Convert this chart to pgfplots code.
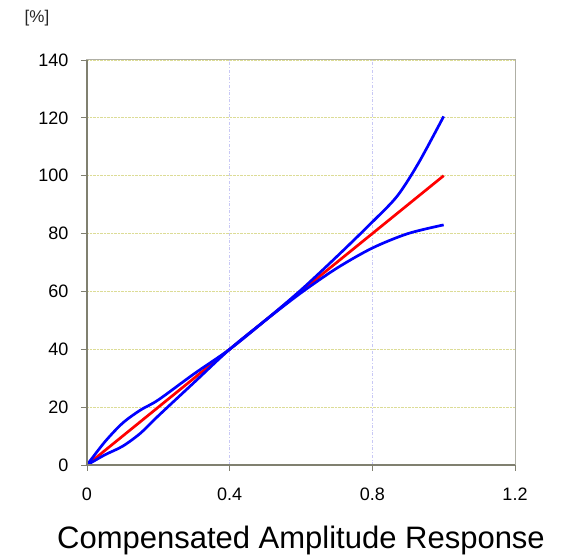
\documentclass[border=0pt]{standalone}
\usepackage{pgfplots}
\pgfplotsset{compat=1.18}
\usepackage{fontspec}
\setmainfont{Liberation Sans}
\definecolor{gridy}{RGB}{220,220,150}
\definecolor{gridx}{RGB}{200,200,245}
\definecolor{frameC}{RGB}{128,128,112}
\definecolor{frameL}{RGB}{175,175,165}
\begin{document}
\begin{tikzpicture}[x=1pt,y=1pt]
\useasboundingbox (-87,-94) rectangle (488,465);
\begin{axis}[
  at={(0,0)}, anchor=south west,
  scale only axis, width=428pt, height=405pt,
  xmin=0, xmax=1.2, ymin=0, ymax=140,
  xtick={0,0.4,0.8,1.2}, ytick={0,20,...,140},
  xticklabels={0,0.4,0.8,1.2},
  /pgf/number format/assume math mode=true,
  tick label style={font=\fontsize{18}{20}\selectfont, text=black},
  tick align=outside, tickpos=left,
  major tick length=6pt,
  tick style={frameC, line width=0.8pt},
  axis line style={frameL, line width=1pt},
  grid=major,
  y grid style={densely dotted, gridy, line width=0.9pt},
  x grid style={dash dot, gridx, line width=0.8pt},
  yticklabel style={xshift=-9pt},
  xticklabel style={yshift=-13pt},
  clip=false,
]
\addplot[red, line width=2.7pt, smooth] coordinates {
(0,0) (0.1,10) (0.2,20) (0.3,30) (0.4,40) (0.5,50) (0.6,60) (0.7,70) (0.8,80) (0.9,90) (1.0,100)};
\addplot[blue, line width=2.7pt, smooth, tension=0.5] coordinates {
(0,0) (0.05,8) (0.1,14.5) (0.15,19) (0.2,22.5) (0.3,31.5) (0.4,40) (0.5,50) (0.6,60.5) (0.7,72) (0.8,84) (0.87,93) (0.93,104.5) (1.0,120.5)};
\addplot[blue, line width=2.7pt, smooth, tension=0.5] coordinates {
(0,0) (0.05,3.5) (0.1,6.5) (0.15,11) (0.2,17) (0.3,28.5) (0.4,40) (0.5,50) (0.6,59.5) (0.7,68) (0.8,75) (0.9,80) (1.0,83)};
\draw[frameC, line width=1.2pt] (axis cs:0,0) -- (axis cs:0,140);
\draw[frameC, line width=1.2pt] (axis cs:0,0) -- (axis cs:1.2,0);
\draw[frameL, line width=1pt] (axis cs:0,140) -- (axis cs:1.2,140);
\end{axis}
\node[font=\fontsize{17}{19}\selectfont, text=black!85] at (-50,447) {[\%]};
\node[font=\fontsize{31}{36}\selectfont, anchor=base] at (214,-83) {Compensated Amplitude Response};
\end{tikzpicture}
\end{document}
